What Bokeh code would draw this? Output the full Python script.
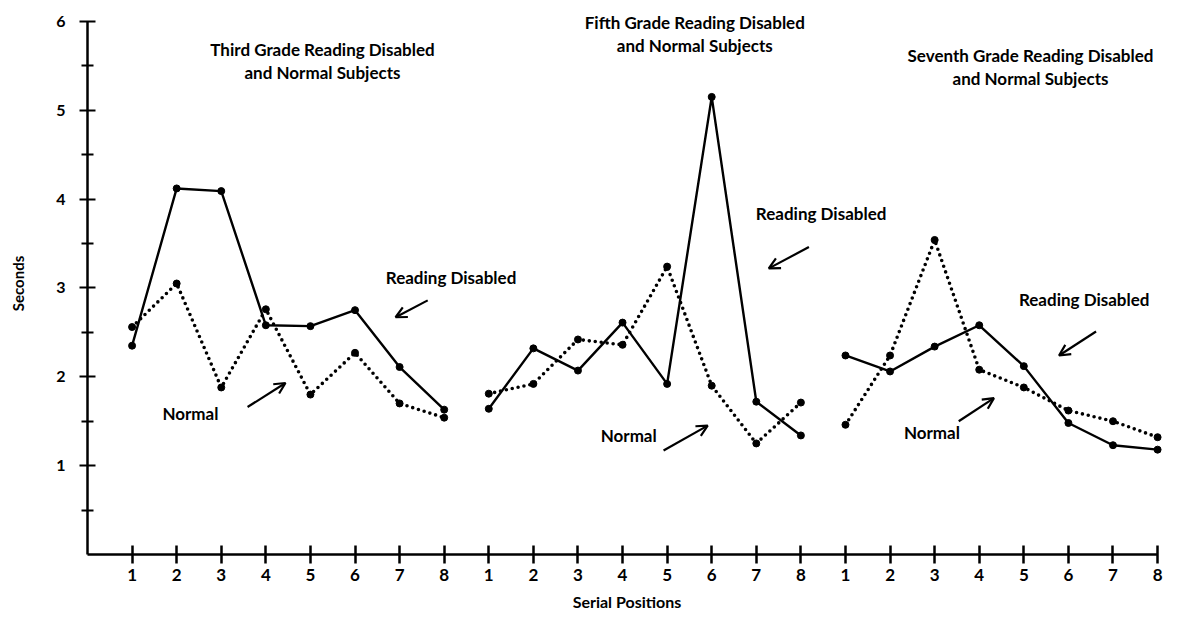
import math
from bokeh.plotting import figure
from bokeh.models import Range1d, FixedTicker, Label, Arrow, OpenHead
from bokeh.embed import file_html
from bokeh.resources import INLINE

FONT = "Lato"

# ---- data ----
positions = [1, 2, 3, 4, 5, 6, 7, 8]
grade_titles = [
    ("Third Grade Reading Disabled", "and Normal Subjects"),
    ("Fifth Grade Reading Disabled", "and Normal Subjects"),
    ("Seventh Grade Reading Disabled", "and Normal Subjects"),
]
third_disabled = [2.35, 4.12, 4.09, 2.58, 2.57, 2.75, 2.11, 1.63]
third_normal = [2.56, 3.05, 1.88, 2.76, 1.80, 2.27, 1.70, 1.54]
fifth_disabled = [1.64, 2.32, 2.07, 2.61, 1.92, 5.15, 1.72, 1.34]
fifth_normal = [1.81, 1.92, 2.42, 2.36, 3.24, 1.90, 1.25, 1.71]
seventh_disabled = [2.24, 2.06, 2.34, 2.58, 2.12, 1.48, 1.23, 1.18]
seventh_normal = [1.46, 2.24, 3.54, 2.08, 1.88, 1.62, 1.50, 1.32]
disabled = [third_disabled, fifth_disabled, seventh_disabled]
normal = [third_normal, fifth_normal, seventh_normal]
y_ticks = [1, 2, 3, 4, 5, 6]
y_minor = [0.5, 1.5, 2.5, 3.5, 4.5, 5.5]

# ---- annotation placement (data coords) ----
title_pos = [(5.27, 5.68, 5.43), (13.62, 5.99, 5.73), (21.15, 5.62, 5.36)]
rd_text = [(6.69, 3.12), (14.99, 3.84), (20.89, 2.87)]
nm_text = [(1.68, 1.59), (11.51, 1.34), (18.31, 1.37)]
rd_arrow = [(7.63, 2.86, 6.91, 2.67), (16.18, 3.46, 15.28, 3.22), (22.62, 2.51, 21.79, 2.24)]
nm_arrow = [(3.59, 1.66, 4.44, 1.93), (12.92, 1.17, 13.91, 1.45), (19.54, 1.50, 20.33, 1.76)]

p = figure(width=1166, height=616, output_backend="svg", toolbar_location=None,
           x_range=Range1d(0, 24.2), y_range=Range1d(0, 6.1),
           min_border_left=87, min_border_right=0, min_border_top=12, min_border_bottom=62)
p.outline_line_color = None
p.xgrid.visible = False
p.ygrid.visible = False

n = len(positions)
for g in range(3):
    xs = [g * n + k for k in positions]
    p.line(xs, normal[g], line_color="black", line_width=3.6, line_dash="0 6", line_cap="round")
    p.line(xs, disabled[g], line_color="black", line_width=2.4)
    p.scatter(xs, normal[g], size=7, color="black")
    p.scatter(xs, disabled[g], size=7, color="black")

# x axis
xa = p.xaxis[0]
xa.ticker = FixedTicker(ticks=list(range(1, 3 * n + 1)))
xa.major_label_overrides = {i: str((i - 1) % n + 1) for i in range(1, 3 * n + 1)}
xa.bounds = (0, 3 * n)
xa.axis_line_width = 2.5
xa.axis_line_color = "black"
xa.major_tick_line_width = 2.5
xa.major_tick_line_color = "black"
xa.major_tick_in = 9
xa.major_tick_out = 9
xa.minor_tick_line_color = None
xa.major_label_text_font = FONT
xa.major_label_text_font_style = "bold"
xa.major_label_text_font_size = "17px"
xa.major_label_text_color = "black"
xa.major_label_standoff = 5
xa.axis_label = "Serial Positions"
xa.axis_label_text_font = FONT
xa.axis_label_text_font_style = "bold"
xa.axis_label_text_font_size = "16px"
xa.axis_label_text_color = "black"
xa.axis_label_standoff = 8

# y axis
ya = p.yaxis[0]
ya.ticker = FixedTicker(ticks=y_ticks, minor_ticks=y_minor)
ya.bounds = (0, 6)
ya.axis_line_width = 2.5
ya.axis_line_color = "black"
ya.major_tick_line_width = 2.2
ya.minor_tick_line_width = 2.2
ya.major_tick_line_color = "black"
ya.minor_tick_line_color = "black"
ya.major_tick_in = 8
ya.major_tick_out = 8
ya.minor_tick_in = 6
ya.minor_tick_out = 6
ya.major_label_text_font = FONT
ya.major_label_text_font_style = "bold"
ya.major_label_text_font_size = "16px"
ya.major_label_text_color = "black"
ya.major_label_standoff = 14
ya.axis_label = "Seconds"
ya.axis_label_text_font = FONT
ya.axis_label_text_font_style = "bold"
ya.axis_label_text_font_size = "15px"
ya.axis_label_text_color = "black"
ya.axis_label_standoff = 26

for g in range(3):
    cx, y1, y2 = title_pos[g]
    for t, yy in zip(grade_titles[g], (y1, y2)):
        p.add_layout(Label(x=cx, y=yy, text=t, text_font=FONT, text_font_style="bold",
                           text_color="black", text_font_size="17px",
                           text_align="center", text_baseline="middle"))
    p.add_layout(Label(x=rd_text[g][0], y=rd_text[g][1], text="Reading Disabled", text_font=FONT,
                       text_font_style="bold", text_color="black", text_font_size="17px",
                       text_baseline="middle"))
    p.add_layout(Label(x=nm_text[g][0], y=nm_text[g][1], text="Normal", text_font=FONT,
                       text_font_style="bold", text_color="black", text_font_size="17px",
                       text_baseline="middle"))
    for (x0, y0, x1, y1_) in (rd_arrow[g], nm_arrow[g]):
        p.add_layout(Arrow(end=OpenHead(size=11, line_width=2.2), x_start=x0, y_start=y0,
                           x_end=x1, y_end=y1_, line_width=2.2))

open("out.html", "w").write(file_html(p, INLINE))
